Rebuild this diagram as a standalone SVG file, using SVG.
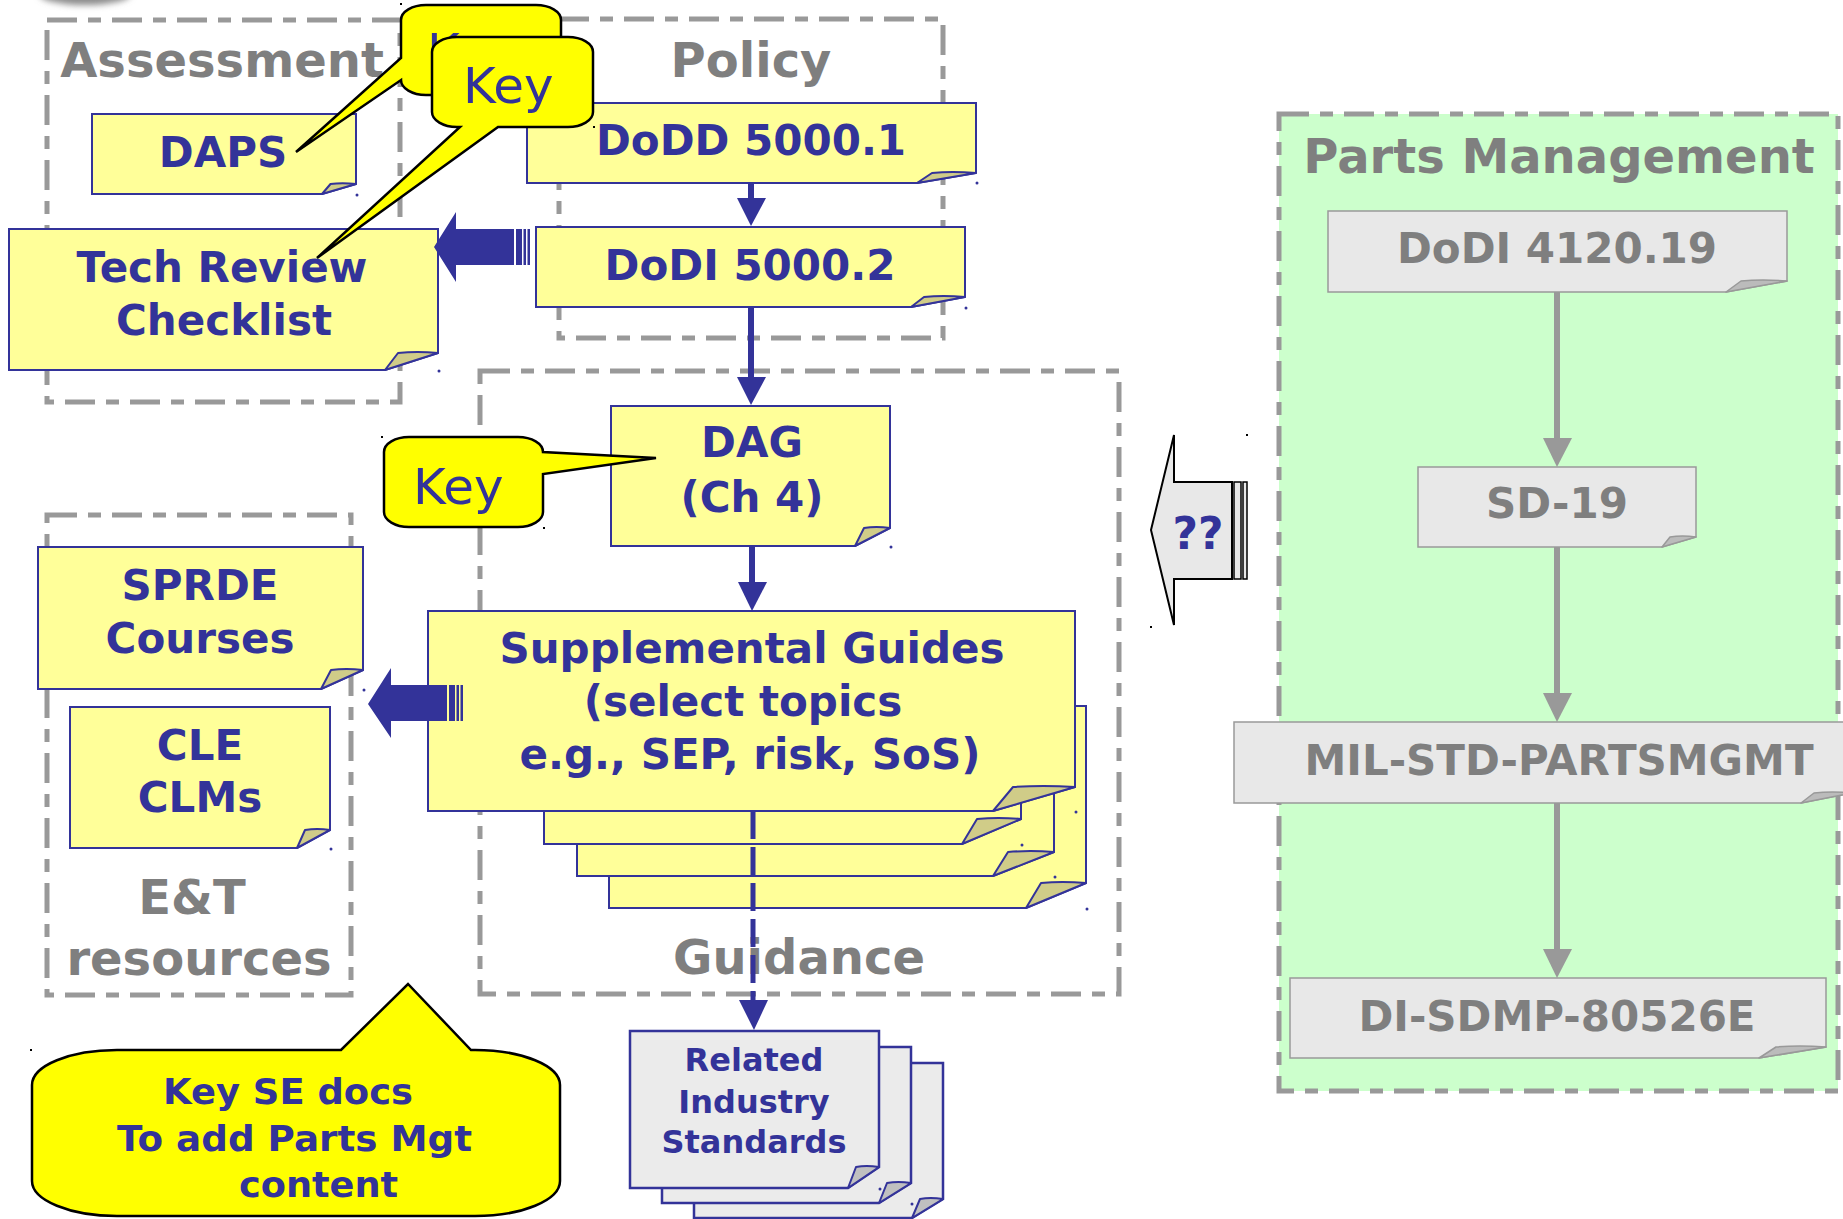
<svg xmlns="http://www.w3.org/2000/svg" width="1843" height="1219" viewBox="0 0 1843 1219">
  <defs>
    <filter id="soft" x="-50%" y="-50%" width="200%" height="200%">
      <feGaussianBlur stdDeviation="3"/>
    </filter>
    <style>
      .grp { fill: none; stroke: #999999; stroke-width: 5; stroke-dasharray: 30 11 13 11; }
      .grp-green { fill: #ccffcc; stroke: #999999; stroke-width: 5; stroke-dasharray: 30 11 13 11; }
      .note { fill: #ffff99; stroke: #333399; stroke-width: 2; stroke-linejoin: miter; }
      .fold { fill: #d0cc88; stroke: #333399; stroke-width: 2; stroke-linejoin: round; }
      .gnote { fill: #e8e8e8; stroke: #999999; stroke-width: 1.5; }
      .gfold { fill: #bbbbbb; stroke: #999999; stroke-width: 1.5; stroke-linejoin: round; }
      .rnote { fill: #ebebeb; stroke: #333399; stroke-width: 2.5; }
      .rfold { fill: #c0c0c0; stroke: #333399; stroke-width: 2; stroke-linejoin: round; }
      .dot { fill: #333399; }
      .kdot { fill: #000000; }
      .callout { fill: #ffff00; stroke: #000000; stroke-width: 2.5; stroke-linejoin: miter; }
      .lbl { font-family: "DejaVu Sans", "Liberation Sans", sans-serif; font-weight: bold; font-size: 42px; fill: #333399; text-anchor: middle; }
      .glbl { font-family: "DejaVu Sans", "Liberation Sans", sans-serif; font-weight: bold; font-size: 42px; fill: #7f7f7f; text-anchor: middle; }
      .title { font-family: "DejaVu Sans", "Liberation Sans", sans-serif; font-weight: bold; font-size: 48px; fill: #7f7f7f; text-anchor: middle; }
      .key { font-family: "DejaVu Sans", "Liberation Sans", sans-serif; font-weight: normal; font-size: 50px; fill: #333399; }
      .std { font-family: "DejaVu Sans", "Liberation Sans", sans-serif; font-weight: bold; font-size: 32px; fill: #333399; text-anchor: middle; }
      .note-big { font-family: "DejaVu Sans", "Liberation Sans", sans-serif; font-weight: bold; font-size: 36px; fill: #333399; }
      .link { fill: none; stroke: #333399; stroke-width: 6; }
      .link-dash { fill: none; stroke: #333399; stroke-width: 5; stroke-dasharray: 28 8; }
      .head { fill: #333399; }
      .glink { fill: none; stroke: #999999; stroke-width: 6; }
      .ghead { fill: #999999; }
      .fat { fill: #333399; }
      .qarrow { fill: #e8e8e8; stroke: #000000; stroke-width: 2; }
      .qstripe { fill: #e8e8e8; stroke: #000000; stroke-width: 1.5; }
    </style>
  </defs>

  <rect width="1843" height="1219" fill="#ffffff"/>

  <!-- soft grey shape clipped by the top edge -->
  <ellipse cx="85" cy="-6" rx="46" ry="11" fill="#8c8c8c" filter="url(#soft)"/>

  <!-- group frames -->
  <g id="groups">
    <g id="grp-parts">
      <rect class="grp-green" x="1279" y="114" width="559" height="977"/>
      <text class="title" x="1559" y="173">Parts Management</text>
    </g>
    <g id="grp-assessment">
      <rect class="grp" x="47" y="20" width="353" height="382"/>
      <text class="title" x="222" y="77">Assessment</text>
    </g>
    <g id="grp-policy">
      <rect class="grp" x="559" y="19" width="384" height="319"/>
      <text class="title" x="751" y="77">Policy</text>
    </g>
    <g id="grp-guidance">
      <rect class="grp" x="480" y="371" width="639" height="623"/>
      <text class="title" x="799" y="974">Guidance</text>
    </g>
    <g id="grp-et">
      <rect class="grp" x="47" y="515" width="304" height="480"/>
      <text class="title" x="192" y="914">E&amp;T</text>
      <text class="title" x="199" y="975">resources</text>
    </g>
  </g>

  <!-- yellow document nodes -->
  <g id="node-daps">
    <path class="note" d="M92,114 H356 V184 L322,194 H92 Z"/>
    <path class="fold" d="M322,194 L330.5,184 Q342,182.5 356,184 Z"/>
    <circle class="dot" cx="357" cy="195" r="1.5"/>
    <text class="lbl" x="223" y="167">DAPS</text>
  </g>

  <g id="node-tech-review">
    <path class="note" d="M9,229 H438 V353 L385,370 H9 Z"/>
    <path class="fold" d="M385,370 L398,353 Q417,351 438,353 Z"/>
    <circle class="dot" cx="439" cy="371" r="1.5"/>
    <text class="lbl" x="222" y="282">Tech Review</text>
    <text class="lbl" x="224" y="335">Checklist</text>
  </g>

  <g id="node-dodd">
    <path class="note" d="M527,103 H976 V173 L917,183 H527 Z"/>
    <path class="fold" d="M917,183 L932,173 Q952,171 976,173 Z"/>
    <circle class="dot" cx="977" cy="183" r="1.5"/>
    <text class="lbl" x="751" y="155">DoDD 5000.1</text>
  </g>

  <g id="node-dodi">
    <path class="note" d="M536,227 H965 V297 L911,307 H536 Z"/>
    <path class="fold" d="M911,307 L924,297 Q943,295 965,297 Z"/>
    <circle class="dot" cx="966" cy="308" r="1.5"/>
    <text class="lbl" x="750" y="280">DoDI 5000.2</text>
  </g>

  <g id="node-dag">
    <path class="note" d="M611,406 H890 V528 L855,546 H611 Z"/>
    <path class="fold" d="M855,546 L864,528 Q876,526 890,528 Z"/>
    <circle class="dot" cx="891" cy="547" r="1.5"/>
    <text class="lbl" x="752" y="457">DAG</text>
    <text class="lbl" x="752" y="512">(Ch 4)</text>
  </g>

  <g id="node-supplemental">
    <path class="note" d="M609,706 H1086 V883 L1026,908 H609 Z"/>
    <path class="fold" d="M1026,908 L1041,883 Q1062,881 1086,883 Z"/>
    <circle class="dot" cx="1087" cy="909" r="1.5"/>
    <path class="note" d="M577,674 H1054 V852 L993,876 H577 Z"/>
    <path class="fold" d="M993,876 L1008,852 Q1030,850 1054,852 Z"/>
    <circle class="dot" cx="1055" cy="877" r="1.5"/>
    <path class="note" d="M544,642 H1021 V819 L962,844 H544 Z"/>
    <path class="fold" d="M962,844 L977,819 Q998,817 1021,819 Z"/>
    <circle class="dot" cx="1022" cy="845" r="1.5"/>
    <path class="note" d="M428,611 H1075 V787 L993,811 H428 Z"/>
    <path class="fold" d="M993,811 L1013,787 Q1043,785 1075,787 Z"/>
    <circle class="dot" cx="1076" cy="812" r="1.5"/>
    <text class="lbl" x="752" y="663">Supplemental Guides</text>
    <text class="lbl" x="743" y="716">(select topics</text>
    <text class="lbl" x="750" y="769">e.g., SEP, risk, SoS)</text>
  </g>

  <g id="node-sprde">
    <path class="note" d="M38,547 H363 V670 L321,689 H38 Z"/>
    <path class="fold" d="M321,689 L331,670 Q346,668 363,670 Z"/>
    <circle class="dot" cx="364" cy="690" r="1.5"/>
    <text class="lbl" x="200" y="600">SPRDE</text>
    <text class="lbl" x="200" y="653">Courses</text>
  </g>

  <g id="node-cle">
    <path class="note" d="M70,707 H330 V830 L297,848 H70 Z"/>
    <path class="fold" d="M297,848 L305,830 Q317,828 330,830 Z"/>
    <circle class="dot" cx="331" cy="849" r="1.5"/>
    <text class="lbl" x="200" y="760">CLE</text>
    <text class="lbl" x="200" y="812">CLMs</text>
  </g>

  <g id="node-standards">
    <path class="rnote" d="M694,1063 H943 V1199 L912,1218 H694 Z"/>
    <path class="rfold" d="M912,1218 L920,1199 Q930,1197 943,1199 Z"/>
    <path class="rnote" d="M662,1047 H911 V1183 L879,1203 H662 Z"/>
    <path class="rfold" d="M879,1203 L887,1183 Q898,1181 911,1183 Z"/>
    <circle class="dot" cx="912" cy="1204" r="1.5"/>
    <path class="rnote" d="M630,1031 H879 V1167 L848,1188 H630 Z"/>
    <path class="rfold" d="M848,1188 L856,1167 Q866,1165 879,1167 Z"/>
    <circle class="dot" cx="880" cy="1189" r="1.5"/>
    <text class="std" x="754" y="1071">Related</text>
    <text class="std" x="754" y="1113">Industry</text>
    <text class="std" x="754" y="1153">Standards</text>
  </g>

  <!-- grey document nodes -->
  <g id="node-dodi-4120">
    <path class="gnote" d="M1328,211 H1787 V281 L1726,292 H1328 Z"/>
    <path class="gfold" d="M1726,292 L1741,281 Q1762,279 1787,281 Z"/>
    <text class="glbl" x="1557" y="263">DoDI 4120.19</text>
  </g>

  <g id="node-sd19">
    <path class="gnote" d="M1418,467 H1696 V537 L1662,547 H1418 Z"/>
    <path class="gfold" d="M1662,547 L1670,537 Q1682,535 1696,537 Z"/>
    <text class="glbl" x="1557" y="518">SD-19</text>
  </g>

  <g id="node-milstd">
    <path class="gnote" d="M1234,722 H1852 V793 L1801,803 H1234 Z"/>
    <path class="gfold" d="M1801,803 L1814,793 Q1832,791 1852,793 Z"/>
    <text class="glbl" x="1559" y="775">MIL-STD-PARTSMGMT</text>
  </g>

  <g id="node-di-sdmp">
    <path class="gnote" d="M1290,978 H1826 V1047 L1759,1058 H1290 Z"/>
    <path class="gfold" d="M1759,1058 L1776,1047 Q1799,1045 1826,1047 Z"/>
    <text class="glbl" x="1557" y="1031">DI-SDMP-80526E</text>
  </g>

  <!-- connectors -->
  <g id="connectors">
    <line class="link" x1="751" y1="183" x2="751" y2="200"/>
    <polygon class="head" points="737,198 766,198 751,226"/>
    <line class="link" x1="751" y1="307" x2="751" y2="380"/>
    <polygon class="head" points="737,377 766,377 751,405"/>
    <line class="link" x1="752" y1="546" x2="752" y2="585"/>
    <polygon class="head" points="738,582 767,582 752,611"/>
    <line class="link-dash" x1="753" y1="811" x2="753" y2="1002"/>
    <polygon class="head" points="739,1000 768,1000 754,1030"/>

    <line class="glink" x1="1557" y1="292" x2="1557" y2="441"/>
    <polygon class="ghead" points="1543,438 1572,438 1557,467"/>
    <line class="glink" x1="1557" y1="547" x2="1557" y2="696"/>
    <polygon class="ghead" points="1543,693 1572,693 1557,722"/>
    <line class="glink" x1="1557" y1="803" x2="1557" y2="952"/>
    <polygon class="ghead" points="1543,949 1572,949 1557,978"/>

    <!-- striped block arrows -->
    <g id="arrow-dodi-tech">
      <path class="fat" d="M434,247 L456,212 V229 H514 V265 H456 V282 Z"/>
      <rect class="fat" x="516" y="229" width="6" height="36"/>
      <rect class="fat" x="523.5" y="229" width="2.5" height="36"/>
      <rect class="fat" x="527.5" y="229" width="2.5" height="36"/>
    </g>
    <g id="arrow-supp-et">
      <path class="fat" d="M368,704 L391,668 V685 H447 V721 H391 V738 Z"/>
      <rect class="fat" x="449" y="685" width="6" height="36"/>
      <rect class="fat" x="456.5" y="685" width="2.5" height="36"/>
      <rect class="fat" x="460.5" y="685" width="2.5" height="36"/>
    </g>
    <g id="arrow-parts-guidance">
      <path class="qarrow" d="M1151,530 L1174,435 V482 H1232 V579 H1174 V625 Z"/>
      <rect class="qstripe" x="1234" y="482" width="7" height="97"/>
      <rect class="qstripe" x="1243" y="482" width="4" height="97"/>
      <rect class="kdot" x="1246" y="434" width="2" height="2"/>
      <rect class="kdot" x="1150" y="626" width="2" height="2"/>
      <text class="lbl" x="1198" y="549" style="font-size:44px">??</text>
    </g>
  </g>

  <!-- callouts -->
  <g id="callout-key-1">
    <path class="callout" d="M426,5 H536 A25 15 0 0 1 561,20 V80 A25 15 0 0 1 536,95 H426 A25 15 0 0 1 401,80 L296,152 L401,58 V20 A25 15 0 0 1 426,5 Z"/>
    <rect class="kdot" x="400" y="3" width="2" height="2"/>
    <text class="key" x="427" y="69">Key</text>
  </g>
  <g id="callout-key-2">
    <path class="callout" d="M457,37 H568 A25 15 0 0 1 593,52 V112 A25 15 0 0 1 568,127 H498 L317,258 L460,127 H457 A25 15 0 0 1 432,112 V52 A25 15 0 0 1 457,37 Z"/>
    <rect class="kdot" x="593" y="126" width="2" height="2"/>
    <text class="key" x="463" y="103">Key</text>
  </g>
  <g id="callout-key-3">
    <path class="callout" d="M409,437 H518 A25 15 0 0 1 543,452 L656,458 L543,474 V512 A25 15 0 0 1 518,527 H409 A25 15 0 0 1 384,512 V452 A25 15 0 0 1 409,437 Z"/>
    <rect class="kdot" x="381" y="436" width="2" height="2"/>
    <rect class="kdot" x="543" y="527" width="2" height="2"/>
    <text class="key" x="413" y="504">Key</text>
  </g>
  <g id="callout-key-se-docs">
    <path class="callout" d="M117,1050 H341 L408,984 L471,1050 H475 A85 35 0 0 1 560,1085 V1181 A85 35 0 0 1 475,1216 H117 A85 35 0 0 1 32,1181 V1085 A85 35 0 0 1 117,1050 Z"/>
    <rect class="kdot" x="30" y="1049" width="2" height="2"/>
    <text class="note-big" x="163" y="1104" textLength="250" lengthAdjust="spacingAndGlyphs">Key SE docs</text>
    <text class="note-big" x="117" y="1151" textLength="355" lengthAdjust="spacingAndGlyphs">To add Parts Mgt</text>
    <text class="note-big" x="239" y="1197" textLength="159" lengthAdjust="spacingAndGlyphs">content</text>
  </g>
</svg>
